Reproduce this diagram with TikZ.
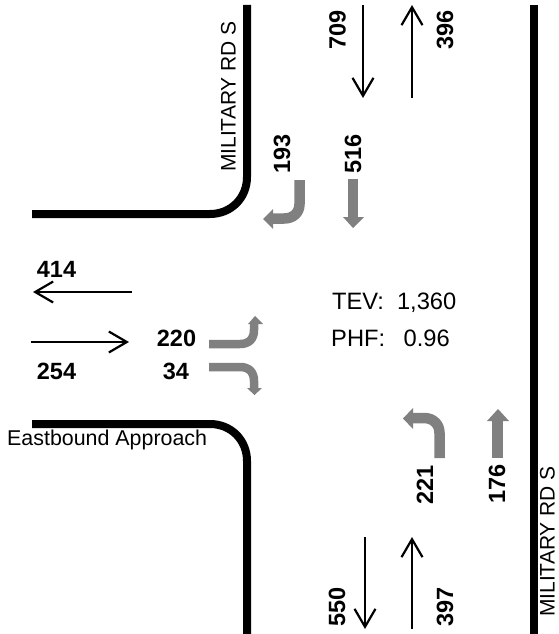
\documentclass[tikz,border=0pt]{standalone}
\usepackage{fontspec}
\setmainfont{Liberation Sans}
\usetikzlibrary{arrows.meta}
\definecolor{gray50}{RGB}{128,128,128}
\tikzset{
  x=1pt,y=-1pt,
  road/.style={line width=8pt,black},
  flow/.style={line width=2.2pt,black,-{Straight Barb[length=18pt,width=21pt,line width=2.2pt]}},
  turn/.style={line width=10.5pt,draw=gray50,line cap=butt},
  head/.style={fill=gray50,draw=none},
  vol/.style={font=\bfseries\fontsize{23.5}{26}\selectfont,inner sep=0pt},
  lab/.style={font=\fontsize{23.7}{26}\selectfont,inner sep=0pt},
  street/.style={font=\fontsize{21}{24}\selectfont,inner sep=0pt,rotate=90},
}
\begin{document}
\begin{tikzpicture}
\useasboundingbox (0,0) rectangle (559,634);
% roads
\draw[road] (247,5) -- (247,177) .. controls (247,198) and (231,214) .. (210,214) -- (32,214);
\draw[road] (32,424) -- (210,424) .. controls (231,424) and (247,440) .. (247,461) -- (247,634);
\draw[road] (534,5) -- (534,634);
% through flows
\coordinate (a1) at (363,5); \coordinate (a2) at (363,98);
\coordinate (b1) at (412,98); \coordinate (b2) at (412,5);
\coordinate (c1) at (132,292); \coordinate (c2) at (33,292);
\coordinate (d1) at (31,342); \coordinate (d2) at (129,342);
\coordinate (e1) at (365,537); \coordinate (e2) at (365,629);
\coordinate (f1) at (412,629); \coordinate (f2) at (412,537);
\draw[flow] (a1) -- (a2);
\draw[flow] (b1) -- (b2);
\draw[flow] (c1) -- (c2);
\draw[flow] (d1) -- (d2);
\draw[flow] (e1) -- (e2);
\draw[flow] (f1) -- (f2);
% turn arrows
\draw[turn] (299.5,180) -- (299.5,204) .. controls (299.5,213) and (293,218.5) .. (284,218.5) -- (273,218.5);
\fill[head] (263,219) -- (273,209) -- (273,229) -- cycle;
\draw[turn] (353,179) -- (353,217);
\fill[head] (353,228) -- (343,217) -- (364,217) -- cycle;
\draw[turn,line width=8.5pt] (209,344) -- (240,344) .. controls (249,344) and (254,339) .. (254,330) -- (254,324);
\fill[head] (255,316) -- (248,324) -- (263,324) -- cycle;
\draw[turn,line width=8.5pt] (209,367) -- (240,367) .. controls (249,367) and (254,372) .. (254,381) -- (254,388);
\fill[head] (254.5,395) -- (247,388) -- (262,388) -- cycle;
\draw[turn] (439.5,458) -- (439.5,433) .. controls (439.5,424) and (433,418) .. (424,418) -- (413,418);
\fill[head] (403,418.5) -- (413,408) -- (413,429) -- cycle;
\draw[turn] (497.5,458) -- (497.5,421);
\fill[head] (498,409) -- (487,421) -- (509,421) -- cycle;
% volumes
\node[vol,rotate=90] (n709) at (337.5,30) {709};
\node[vol,rotate=90] (n396) at (445,30) {396};
\node[vol,rotate=90] (n193) at (282,154) {193};
\node[vol,rotate=90] (n516) at (353,154) {516};
\node[vol] (n414) at (56.5,269) {414};
\node[vol] (n254) at (56.5,371) {254};
\node[vol] (n220) at (176.5,338.5) {220};
\node[vol] (n34) at (176,371) {34};
\node[vol,rotate=90] (n221) at (425,485) {221};
\node[vol,rotate=90] (n176) at (497,484) {176};
\node[vol,rotate=90] (n550) at (337,607) {550};
\node[vol,rotate=90] (n397) at (445,607) {397};
\node[lab,anchor=west] (tev) at (332,303) {TEV:\hspace{13pt}1,360};
\node[lab,anchor=west] (phf) at (331,338) {PHF:\hspace{18.5pt}0.96};
\node[street] (m1) at (228.5,96.5) {MILITARY RD S};
\node[street] (m2) at (547.5,541.5) {MILITARY RD S};
\node[font=\fontsize{21.4}{24}\selectfont,inner sep=0pt,anchor=base west] (east) at (7,445) {Eastbound Approach};
\end{tikzpicture}
\end{document}
